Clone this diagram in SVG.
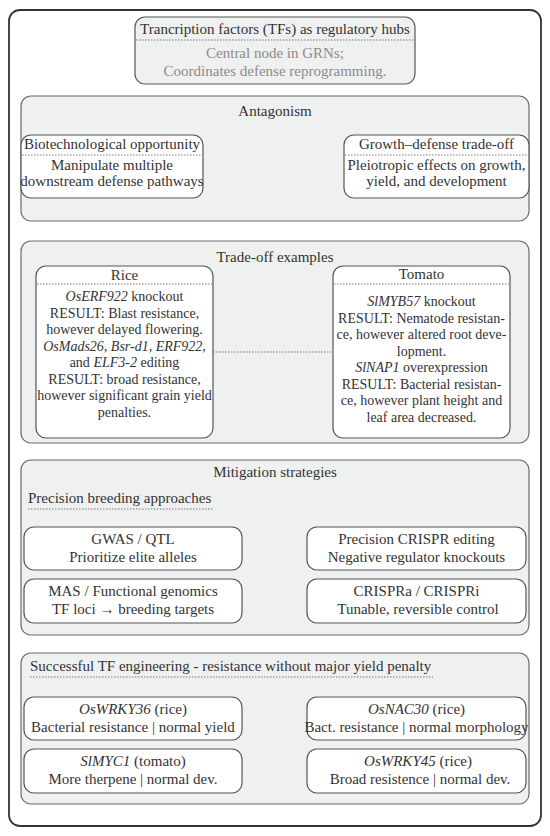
<svg xmlns="http://www.w3.org/2000/svg" width="550" height="836" viewBox="0 0 550 836" font-family="Liberation Serif, DejaVu Serif, serif">
<style>
text{font-family:"Liberation Serif","DejaVu Serif",serif;fill:#333;font-size:15px}
.c{text-anchor:middle}
.s{font-size:14px}
.g{fill:#8c8c8c}
.sec{fill:#eff0f0;stroke:#6b6b6b;stroke-width:1.2}
.box{fill:#fff;stroke:#555;stroke-width:1.2}
.top{fill:#eff0f0;stroke:#555;stroke-width:1.2}
.dot{stroke:#777;stroke-width:1;stroke-dasharray:1.5 1.5;fill:none}
</style>
<rect x="9" y="10" width="532" height="816" rx="11" fill="#fff" stroke="#333" stroke-width="1.8"/>

<g id="tf-hubs">
<rect class="top" x="135" y="17" width="280" height="67" rx="10"/>
<text class="c" x="275" y="34">Trancription factors (TFs) as regulatory hubs</text>
<line class="dot" x1="136" y1="40" x2="414" y2="40"/>
<text class="c g" x="275" y="58">Central node in GRNs;</text>
<text class="c g" x="275" y="76">Coordinates defense reprogramming.</text>
</g>

<g id="antagonism">
<rect class="sec" x="21" y="96" width="508" height="125" rx="10"/>
<text class="c" x="275" y="116">Antagonism</text>
</g>
<g id="biotech">
<rect class="box" x="21" y="135" width="182" height="63" rx="10"/>
<text class="c" x="112" y="149">Biotechnological opportunity</text>
<line class="dot" x1="22" y1="155" x2="202" y2="155"/>
<text class="c" x="112" y="170">Manipulate multiple</text>
<text class="c" x="112" y="186">downstream defense pathways</text>
</g>
<g id="tradeoff">
<rect class="box" x="344" y="135" width="185" height="63" rx="10"/>
<text class="c" x="436.5" y="149">Growth–defense trade-off</text>
<line class="dot" x1="345" y1="155" x2="528" y2="155"/>
<text class="c" x="436.5" y="170">Pleiotropic effects on growth,</text>
<text class="c" x="436.5" y="186">yield, and development</text>
</g>

<g id="tradeoff-examples">
<rect class="sec" x="21" y="241" width="508" height="202" rx="10"/>
<text class="c" x="275" y="262">Trade-off examples</text>
</g>
<g id="connectors">
<line class="dot" x1="213" y1="352" x2="333" y2="352"/>
</g>
<g id="rice">
<rect class="box" x="36" y="266" width="177" height="172" rx="10"/>
<text class="c" x="124.5" y="280">Rice</text>
<line class="dot" x1="37" y1="284" x2="212" y2="284"/>
<text class="c s" x="124.5" y="301"><tspan font-style="italic">OsERF922</tspan> knockout</text>
<text class="c s" x="124.5" y="317.5">RESULT: Blast resistance,</text>
<text class="c s" x="124.5" y="334">however delayed flowering.</text>
<text class="c s" x="124.5" y="350.5"><tspan font-style="italic">OsMads26, Bsr-d1, ERF922,</tspan></text>
<text class="c s" x="124.5" y="367">and <tspan font-style="italic">ELF3-2</tspan> editing</text>
<text class="c s" x="124.5" y="383.5">RESULT: broad resistance,</text>
<text class="c s" x="124.5" y="400">however significant grain yield</text>
<text class="c s" x="124.5" y="416.5">penalties.</text>
</g>
<g id="tomato">
<rect class="box" x="333" y="266" width="177" height="172" rx="10"/>
<text class="c" x="421.5" y="279">Tomato</text>
<line class="dot" x1="334" y1="284" x2="509" y2="284"/>
<text class="c s" x="421.5" y="306"><tspan font-style="italic">SlMYB57</tspan> knockout</text>
<text class="c s" x="421.5" y="322.5">RESULT: Nematode resistan-</text>
<text class="c s" x="421.5" y="339">ce, however altered root deve-</text>
<text class="c s" x="421.5" y="355.5">lopment.</text>
<text class="c s" x="421.5" y="372"><tspan font-style="italic">SlNAP1</tspan> overexpression</text>
<text class="c s" x="421.5" y="388.5">RESULT: Bacterial resistan-</text>
<text class="c s" x="421.5" y="405">ce, however plant height and</text>
<text class="c s" x="421.5" y="421.5">leaf  area decreased.</text>
</g>

<g id="mitigation">
<rect class="sec" x="21" y="460" width="508" height="175" rx="10"/>
<text class="c" x="275" y="477">Mitigation strategies</text>
<text x="28" y="503">Precision breeding approaches</text>
<line class="dot" x1="28" y1="509" x2="213" y2="509"/>
</g>
<g id="gwas">
<rect class="box" x="24" y="527" width="218" height="43" rx="10"/>
<text class="c" x="133" y="544">GWAS / QTL</text>
<text class="c" x="133" y="562">Prioritize elite alleles</text>
</g>
<g id="crispr">
<rect class="box" x="307" y="527" width="219" height="43" rx="10"/>
<text class="c" x="416.5" y="544">Precision CRISPR editing</text>
<text class="c" x="416.5" y="562">Negative regulator knockouts</text>
</g>
<g id="mas">
<rect class="box" x="24" y="579" width="218" height="44" rx="10"/>
<text class="c" x="133" y="596">MAS / Functional genomics</text>
<text class="c" x="133" y="614">TF loci → breeding targets</text>
</g>
<g id="crispra">
<rect class="box" x="307" y="579" width="219" height="44" rx="10"/>
<text class="c" x="416.5" y="596">CRISPRa / CRISPRi</text>
<text class="c" x="418" y="614">Tunable, reversible control</text>
</g>

<g id="successful">
<rect class="sec" x="21" y="653" width="508" height="151" rx="10"/>
<text x="30" y="671">Successful TF engineering - resistance without major yield penalty</text>
<line class="dot" x1="30" y1="677" x2="433" y2="677"/>
</g>
<g id="oswrky36">
<rect class="box" x="24" y="697" width="218" height="43" rx="10"/>
<text class="c" x="133" y="714"><tspan font-style="italic">OsWRKY36</tspan> (rice)</text>
<text class="c" x="133" y="732">Bacterial resistance | normal yield</text>
</g>
<g id="osnac30">
<rect class="box" x="307" y="697" width="219" height="43" rx="10"/>
<text class="c" x="416.5" y="714"><tspan font-style="italic">OsNAC30</tspan> (rice)</text>
<text class="c" x="416.5" y="732">Bact. resistance | normal morphology</text>
</g>
<g id="slmyc1">
<rect class="box" x="24" y="749" width="218" height="44" rx="10"/>
<text class="c" x="133" y="766"><tspan font-style="italic">SlMYC1</tspan> (tomato)</text>
<text class="c" x="133" y="784">More therpene | normal dev.</text>
</g>
<g id="oswrky45">
<rect class="box" x="307" y="749" width="219" height="44" rx="10"/>
<text class="c" x="418" y="766"><tspan font-style="italic">OsWRKY45</tspan> (rice)</text>
<text class="c" x="420" y="784">Broad resistence | normal dev.</text>
</g>
</svg>
